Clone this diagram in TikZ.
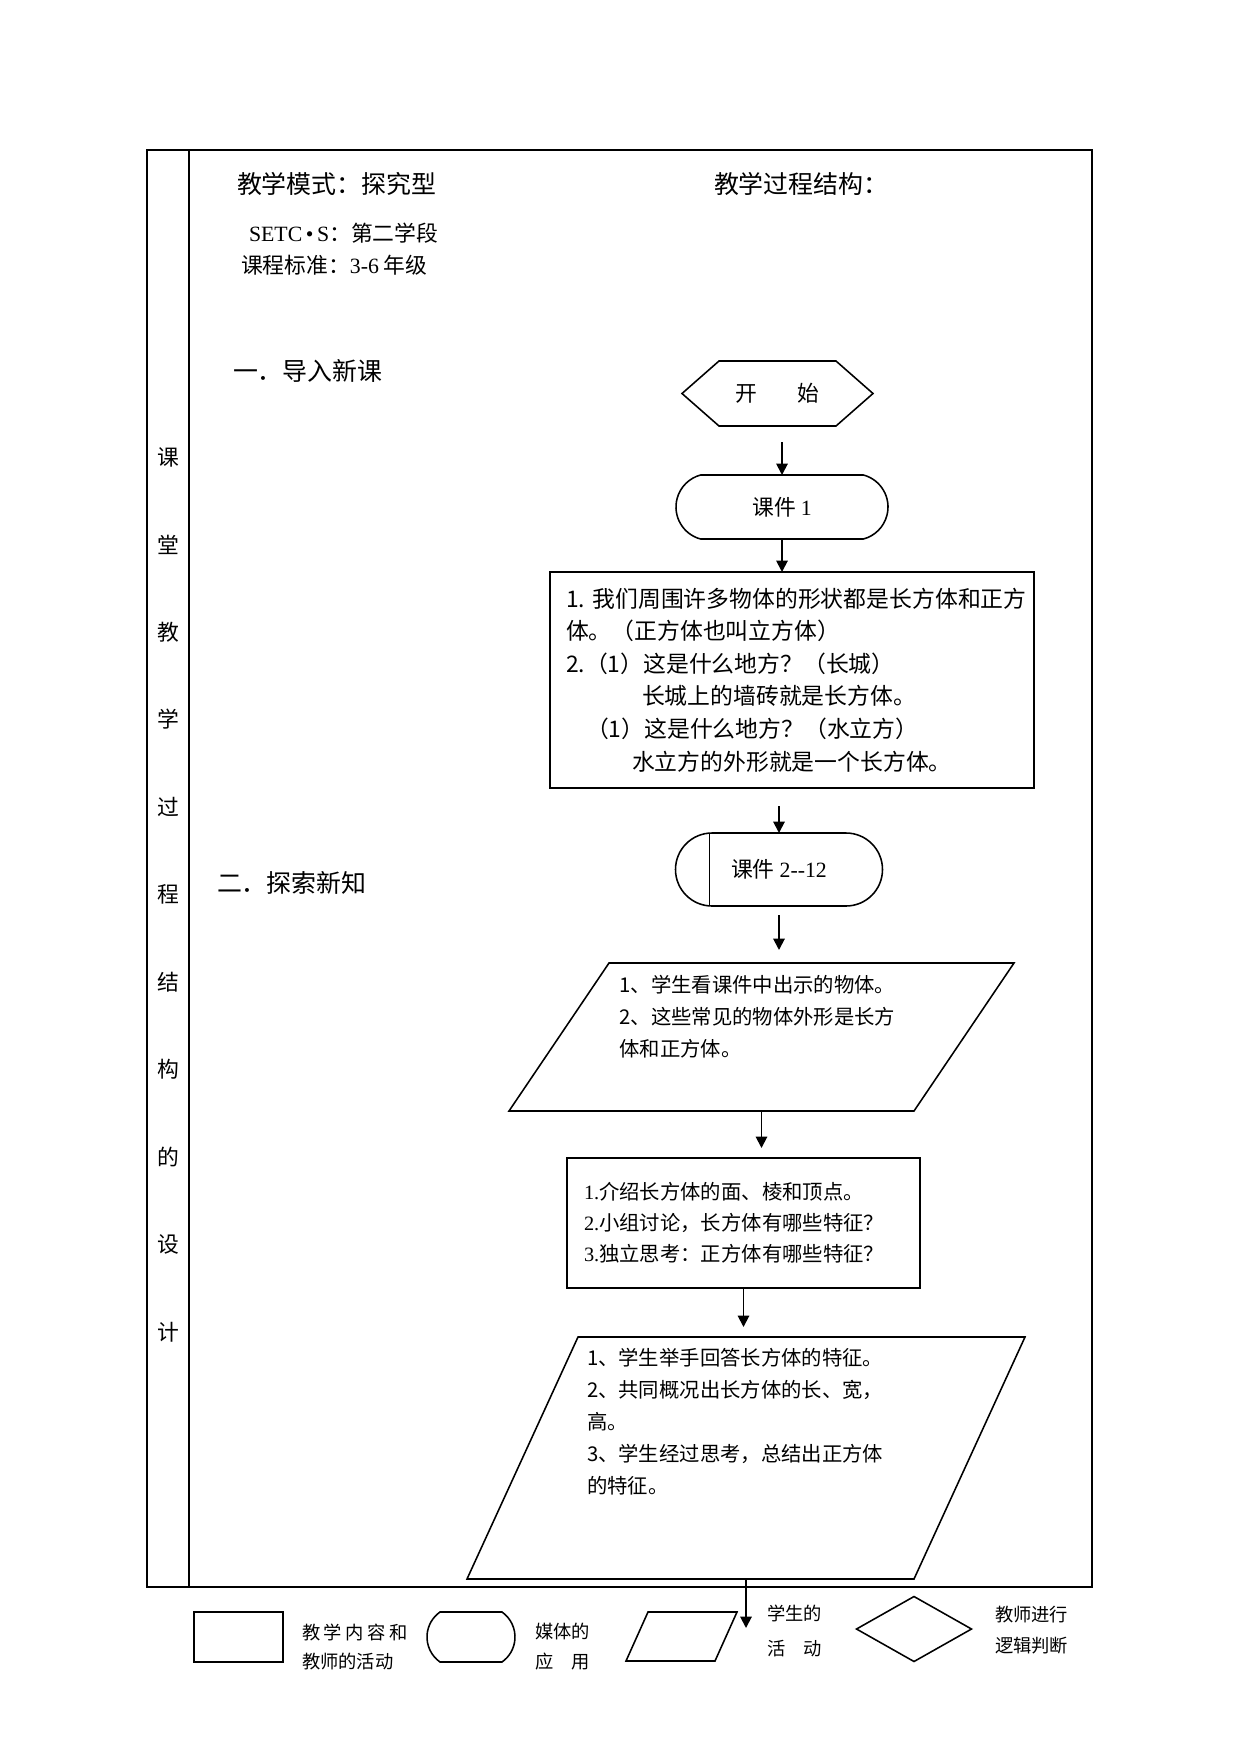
\documentclass[tikz,border=0pt]{standalone}
\usepackage{fontspec}
\setmainfont{Liberation Serif}
\newfontfamily\cjk{Noto Sans CJK SC}
\usetikzlibrary{arrows.meta,calc,shapes.misc}
\newlength\pxl
\setlength\pxl{0.1693mm}

\begin{document}
\begin{tikzpicture}[x=0.1693mm, y=-0.1693mm,
  every node/.style={inner sep=0pt, outer sep=0pt},
  headtext/.style={anchor=west, font=\cjk\fontsize{12pt}{15pt}\selectfont},
  infotext/.style={anchor=west, font=\cjk\fontsize{10.5pt}{13pt}\selectfont},
  sidetext/.style={font=\cjk\fontsize{10.5pt}{13pt}\selectfont},
  procbox/.style={draw, line width=0.75pt, align=left},
  mediabox/.style={draw, rounded rectangle, line width=0.75pt, font=\cjk\fontsize{10.5pt}{13pt}\selectfont},
  actbox/.style={align=left, font=\cjk\fontsize{9.8pt}{15.4pt}\selectfont},
  shapeline/.style={line width=0.75pt},
  flowarrow/.style={line width=0.9pt, -{Triangle[length=5.5pt,width=5.5pt]}},
  keytext/.style={anchor=west, align=left, font=\cjk\fontsize{8.8pt}{14.4pt}\selectfont}]
  \useasboundingbox (0,0) rectangle (1241,1754);

  % table frame
  \draw[line width=0.7pt] (147,150) rectangle (1092,1587);
  \draw[line width=0.7pt] (189,150) -- (189,1587);
  \foreach \ch [count=\i] in {课,堂,教,学,过,程,结,构,的,设,计}
    \node[sidetext] (side\i) at (168,{457+87.5*(\i-1)}) {\ch};

  % headings
  \node[headtext] (mode) at (237,184) {教学模式：探究型};
  \node[headtext] (struct) at (714,184) {教学过程结构：};
  \node[infotext] (setc) at (249,233) {{\rmfamily SETC\,•\,S}：第二学段};
  \node[infotext] (grade) at (241,265) {课程标准：{\rmfamily 3-6} 年级};
  \node[headtext] (part1) at (233,371) {一．导入新课};
  \node[headtext] (part2) at (217,883) {二．探索新知};

  % flow
  \node[minimum width=191*\pxl, minimum height=65*\pxl, font=\cjk\fontsize{10.5pt}{13pt}\selectfont] (start) at (777.5,393.5) {开\hspace{19pt}始};
  \draw[shapeline] (start.west) -- ($(start.north west)+(37,0)$) -- ($(start.north east)+(-37,0)$)
    -- (start.east) -- ($(start.south east)+(-37,0)$) -- ($(start.south west)+(37,0)$) -- cycle;

  \node[mediabox, rounded rectangle arc length=150, minimum width=212*\pxl, minimum height=64*\pxl] (media1) at (782,507) {课件 {\rmfamily 1}};

  \node[procbox, minimum width=484*\pxl, minimum height=216*\pxl, text width=452*\pxl, font=\cjk\fontsize{11pt}{15.7pt}\selectfont] (proc1) at (792,680)
    {1.~我们周围许多物体的形状都是长方体和正方\\体。（正方体也叫立方体）\\2.（1）这是什么地方？（长城）\\\hspace*{76\pxl}长城上的墙砖就是长方体。\\\hspace*{20\pxl}（1）这是什么地方？（水立方）\\\hspace*{66\pxl}水立方的外形就是一个长方体。};

  \node[mediabox, minimum width=207*\pxl, minimum height=73*\pxl] (media2) at (779,869.5) {课件 {\rmfamily 2-{}-12}};
  \draw[shapeline] ($(media2.west)+(34,-36.5)$) -- ($(media2.west)+(34,36.5)$);

  \node[actbox, minimum width=505*\pxl, minimum height=148*\pxl, text width=284*\pxl] (stu1) at (761.5,1037)
    {1、学生看课件中出示的物体。\\2、这些常见的物体外形是长方\\体和正方体。\\\strut};
  \draw[shapeline] ($(stu1.north west)+(100,0)$) -- (stu1.north east) -- ($(stu1.south east)+(-100,0)$) -- (stu1.south west) -- cycle;

  \node[procbox, minimum width=353*\pxl, minimum height=130*\pxl, text width=319*\pxl, font=\cjk\fontsize{9.8pt}{15pt}\selectfont] (proc2) at (743.5,1223)
    {{\rmfamily 1.}介绍长方体的面、棱和顶点。\\{\rmfamily 2.}小组讨论，长方体有哪些特征？\\{\rmfamily 3.}独立思考：正方体有哪些特征？};

  \node[actbox, minimum width=558*\pxl, minimum height=242*\pxl, text width=318*\pxl] (stu2) at (746,1458)
    {1、学生举手回答长方体的特征。\\2、共同概况出长方体的长、宽，\\高。\\3、学生经过思考，总结出正方体\\的特征。\\\strut\\\strut};
  \draw[shapeline] ($(stu2.north west)+(111,0)$) -- (stu2.north east) -- ($(stu2.south east)+(-111,0)$) -- (stu2.south west) -- cycle;

  % arrows
  \draw[flowarrow, shorten <=16*\pxl] (start.south -| media1.north) -- (media1.north);
  \draw[flowarrow] (media1.south) -- (media1.south |- proc1.north);
  \draw[flowarrow, shorten <=18*\pxl] (media2.north |- proc1.south) -- (media2.north);
  \draw[flowarrow, shorten <=9*\pxl, shorten >=13*\pxl] (media2.south) -- (media2.south |- stu1.north);
  \draw[flowarrow, shorten >=10*\pxl] (stu1.south) -- (stu1.south |- proc2.north);
  \draw[flowarrow, shorten >=10*\pxl] (proc2.south) -- (proc2.south |- stu2.north);
  \coordinate (stuend) at (747,1628);
  \draw[flowarrow] (stu2.south) -- (stu2.south |- stuend);

  % legend
  \node[draw, line width=0.75pt, minimum width=89*\pxl, minimum height=50*\pxl] (key1) at (238.5,1637) {};
  \node[keytext] (key1txt) at (302,1647) {教\kern1.7pt 学\kern1.7pt 内\kern1.7pt 容\kern1.7pt 和\\教师的活动};
  \node[mediabox, rounded rectangle arc length=110, minimum width=88*\pxl, minimum height=50*\pxl] (key2) at (471,1637) {};
  \node[keytext] (key2txt) at (535,1647) {媒体的\\应\quad 用};
  \node[minimum width=111*\pxl, minimum height=49*\pxl] (key3) at (681.5,1636.5) {};
  \draw[shapeline] ($(key3.north west)+(22,0)$) -- (key3.north east) -- ($(key3.south east)+(-22,0)$) -- (key3.south west) -- cycle;
  \node[keytext, font=\cjk\fontsize{8.8pt}{16.8pt}\selectfont] (key3txt) at (767,1631) {学生的\\活\quad 动};
  \node[minimum width=115*\pxl, minimum height=65*\pxl] (key4) at (914,1629) {};
  \draw[shapeline] (key4.west) -- (key4.north) -- (key4.east) -- (key4.south) -- cycle;
  \node[keytext, font=\cjk\fontsize{8.8pt}{14.9pt}\selectfont] (key4txt) at (995,1630) {教师进行\\逻辑判断};
\end{tikzpicture}
\end{document}
